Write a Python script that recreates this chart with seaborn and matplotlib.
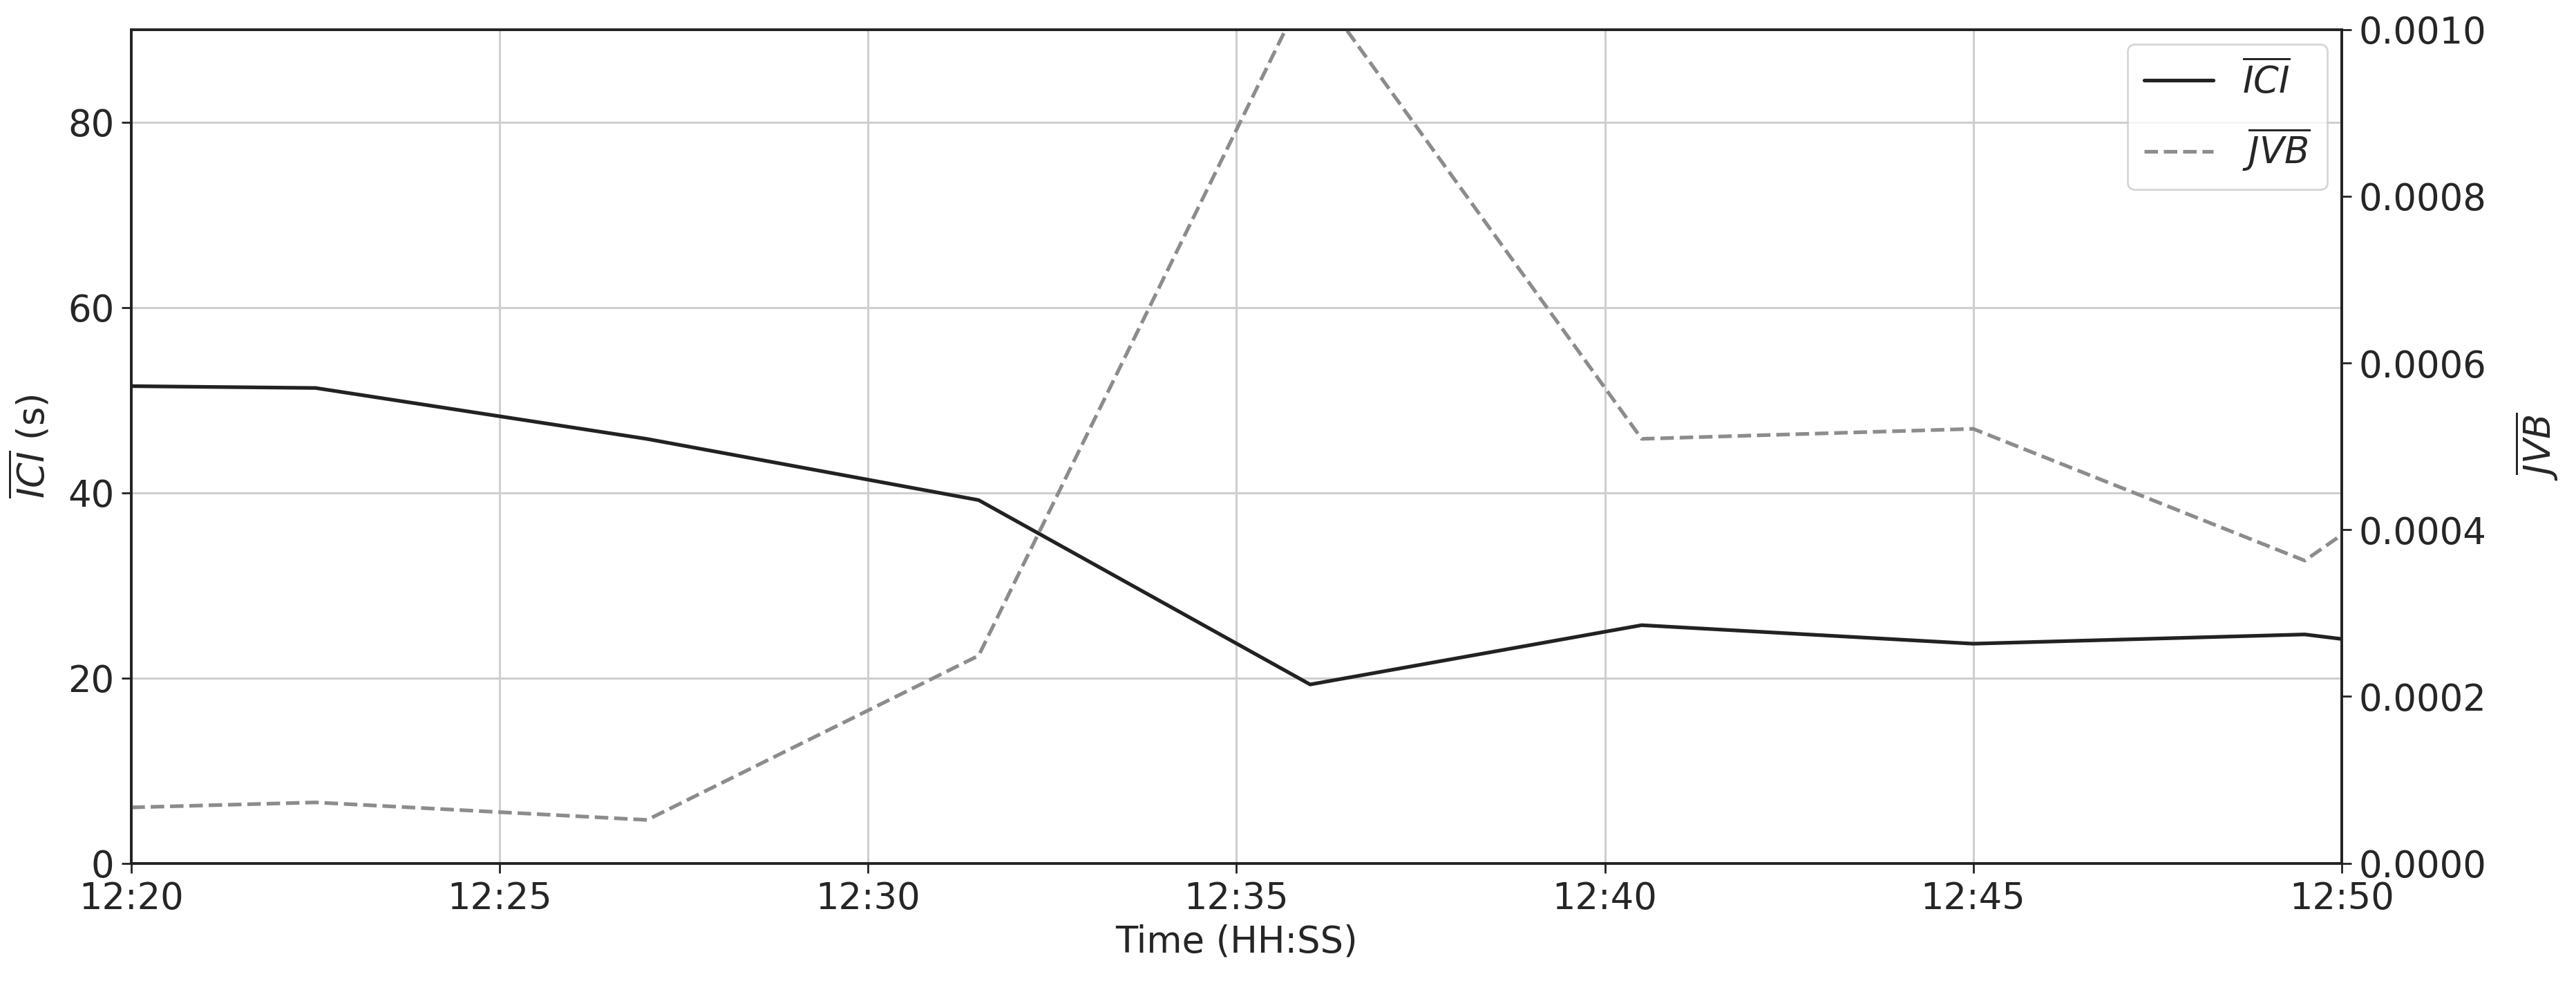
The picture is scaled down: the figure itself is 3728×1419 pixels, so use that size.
import numpy as np
import pandas as pd
import matplotlib
matplotlib.use('Agg')
import matplotlib.pyplot as plt
import matplotlib.dates as mdates
import seaborn as sns

# values (last point lies beyond the 12:50 limit)
times = ['12:20:00', '12:22:30', '12:27:00', '12:31:30', '12:36:00',
         '12:40:30', '12:45:00', '12:49:30', '12:54:00']
ici_mean = [51.5, 51.3, 45.8, 39.2, 19.3, 25.7, 23.7, 24.7, 20.3]
jvb_mean = [0.000067, 0.000073, 0.000052, 0.000249, 0.00106,
            0.000509, 0.000521, 0.000363, 0.00064]
tick_times = ['12:20', '12:25', '12:30', '12:35', '12:40', '12:45', '12:50']
ici_ticks = [0, 20, 40, 60, 80]
jvb_ticks = [0.0, 0.0002, 0.0004, 0.0006, 0.0008, 0.0010]

df = pd.DataFrame({
    'time': pd.to_datetime(['2020-01-01 ' + t for t in times]),
    'ici': ici_mean,
    'jvb': jvb_mean,
})
tick_dt = pd.to_datetime(['2020-01-01 ' + t for t in tick_times])

sns.set_style('ticks', {'axes.grid': True, 'grid.color': '#cfcfcf',
                        'axes.edgecolor': '#222222'})
plt.rcParams['font.family'] = ['DejaVu Sans']
plt.rcParams['mathtext.fontset'] = 'dejavusans'
fs = 19

fig, ax = plt.subplots(figsize=(18.64, 7.095), dpi=200)
fig.subplots_adjust(left=0.051, right=0.909, bottom=0.12, top=0.97)

sns.lineplot(data=df, x='time', y='ici', ax=ax, color='#222222',
             linewidth=1.9, label=r'$\overline{ICI}$', legend=False)

ax2 = ax.twinx()
sns.lineplot(data=df, x='time', y='jvb', ax=ax2, color='#8c8c8c',
             linewidth=1.9, linestyle='--', label=r'$\overline{JVB}$', legend=False)

ax.set_xlim(tick_dt[0], tick_dt[-1])
ax.set_xticks(tick_dt)
ax.xaxis.set_major_formatter(mdates.DateFormatter('%H:%M'))
ax.set_ylim(0, 90)
ax.set_yticks(ici_ticks)
ax2.set_ylim(0, 0.001)
ax2.set_yticks(jvb_ticks)
ax2.set_yticklabels([f'{v:.4f}' for v in jvb_ticks])
ax2.grid(False)

ax.grid(True, color='#cfcfcf', linewidth=1.1)
for a in (ax, ax2):
    for s in a.spines.values():
        s.set_color('#222222')
        s.set_linewidth(1.3)
    a.tick_params(labelsize=fs, width=1.0, length=5, color='#222222', pad=4)

ax.set_xlabel('Time (HH:SS)', fontsize=fs, labelpad=4)
ax.set_ylabel(r'$\overline{ICI}$ (s)', fontsize=fs, labelpad=8)
ax2.set_ylabel(r'$\overline{JVB}$', fontsize=fs, labelpad=14)

h1, l1 = ax.get_legend_handles_labels()
h2, l2 = ax2.get_legend_handles_labels()
ax2.legend(h1 + h2, l1 + l2, loc='upper right', fontsize=fs,
           frameon=True, fancybox=True, handlelength=1.9,
           borderpad=0.45, labelspacing=0.7, borderaxespad=0.4)

fig.savefig('out.png', dpi=200)
